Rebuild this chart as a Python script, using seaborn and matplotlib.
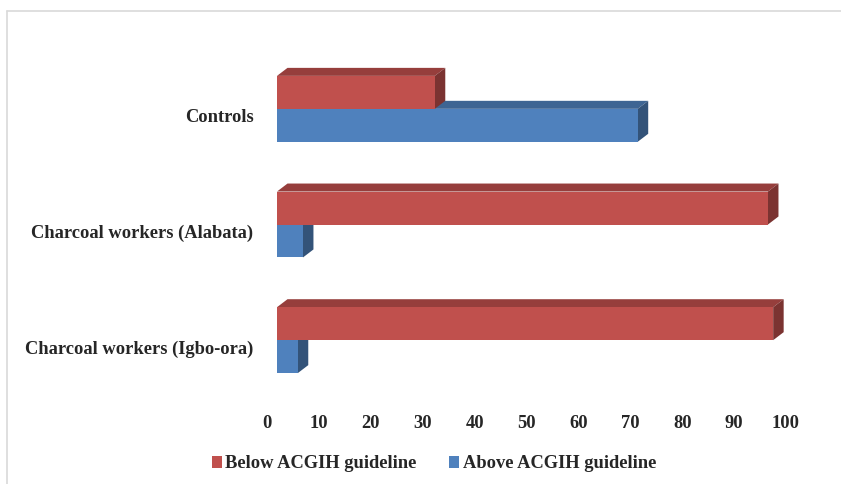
import numpy as np
import pandas as pd
import seaborn as sns
import matplotlib.pyplot as plt
import matplotlib.transforms as mtransforms
from matplotlib.patches import Polygon
from matplotlib.lines import Line2D
from matplotlib.colors import to_rgb

# === data ===
groups = ["Controls", "Charcoal workers (Alabata)", "Charcoal workers (Igbo-ora)"]
below = [30.4, 94.6, 95.6]
above = [69.5, 5.0, 4.0]
series = ["Below ACGIH guideline", "Above ACGIH guideline"]
xticks = list(range(0, 101, 10))

df = pd.DataFrame({
    "group": groups * 2,
    "status": [series[0]] * len(groups) + [series[1]] * len(groups),
    "pct": below + above,
})

sns.set_style("white")
plt.rcParams["font.family"] = ["Liberation Serif", "DejaVu Serif"]
plt.rcParams["font.weight"] = "bold"
FS = 13.3

W, H = 841, 484
fig = plt.figure(figsize=(W / 100, H / 100), dpi=100)
ax = fig.add_axes([277 / W, 1 - 398 / H, 519 / W, (398 - 51) / H])

palette = {series[0]: "#C0504D", series[1]: "#4F81BD"}
sns.barplot(data=df, y="group", x="pct", hue="status", order=groups,
            hue_order=series, palette=palette, orient="h", width=0.57,
            saturation=1, linewidth=0, ax=ax)

ax.set_xlim(0, 100)
ax.set_ylim(2.5, -0.5)
ax.set_xticks(xticks)
ax.set_xlabel("")
ax.set_ylabel("")
sns.despine(ax=ax, left=True, bottom=True)
ax.tick_params(axis="x", length=0, pad=12, labelsize=FS)
ax.tick_params(axis="y", length=0, pad=17, labelsize=FS)

# shift labels a bit like the 3D floor of the original
for lab in ax.get_xticklabels():
    lab.set_transform(lab.get_transform() + mtransforms.ScaledTranslation(-10 / 100, 0, fig.dpi_scale_trans))
for lab in ax.get_yticklabels():
    lab.set_transform(lab.get_transform() + mtransforms.ScaledTranslation(0, -7 / 100, fig.dpi_scale_trans))

# === fake 3D depth: top and side faces ===
fig.canvas.draw()
inv = ax.transData.inverted()
o = inv.transform((0, 0))
d = inv.transform((10.5, 8))
dx, dy = d[0] - o[0], d[1] - o[1]

for i, cont in enumerate(ax.containers):
    base = 2 * (len(ax.containers) - i)
    for bar in cont:
        c = np.array(to_rgb(bar.get_facecolor()))
        x0, y0 = bar.get_x(), bar.get_y()
        x1, y1 = x0 + bar.get_width(), y0 + bar.get_height()
        ytop = min(y0, y1)
        ybot = max(y0, y1)
        top = Polygon([(x0, ytop), (x1, ytop), (x1 + dx, ytop + dy), (x0 + dx, ytop + dy)],
                      closed=True, facecolor=c * 0.78, edgecolor="none", zorder=base - 1, clip_on=False)
        side = Polygon([(x1, ytop), (x1, ybot), (x1 + dx, ybot + dy), (x1 + dx, ytop + dy)],
                       closed=True, facecolor=c * 0.64, edgecolor="none", zorder=base - 1, clip_on=False)
        ax.add_patch(top)
        ax.add_patch(side)
        bar.set_zorder(base)
        bar.set_clip_on(False)

# === legend at bottom ===
handles, labels = ax.get_legend_handles_labels()
ax.get_legend().remove()
fig.legend(handles, labels, loc="center", bbox_to_anchor=(434 / W, 1 - 464 / H), ncol=2,
           frameon=False, fontsize=FS, handlelength=0.55, handleheight=0.55,
           handletextpad=0.2, columnspacing=1.75)

# light frame lines of the chart area
fig.add_artist(Line2D([7 / W, 1], [1 - 11 / H, 1 - 11 / H], transform=fig.transFigure, color="#d9d9d9", lw=1.2))
fig.add_artist(Line2D([7 / W, 7 / W], [0, 1 - 11 / H], transform=fig.transFigure, color="#d9d9d9", lw=1.2))

fig.savefig("out.png", dpi=100)
